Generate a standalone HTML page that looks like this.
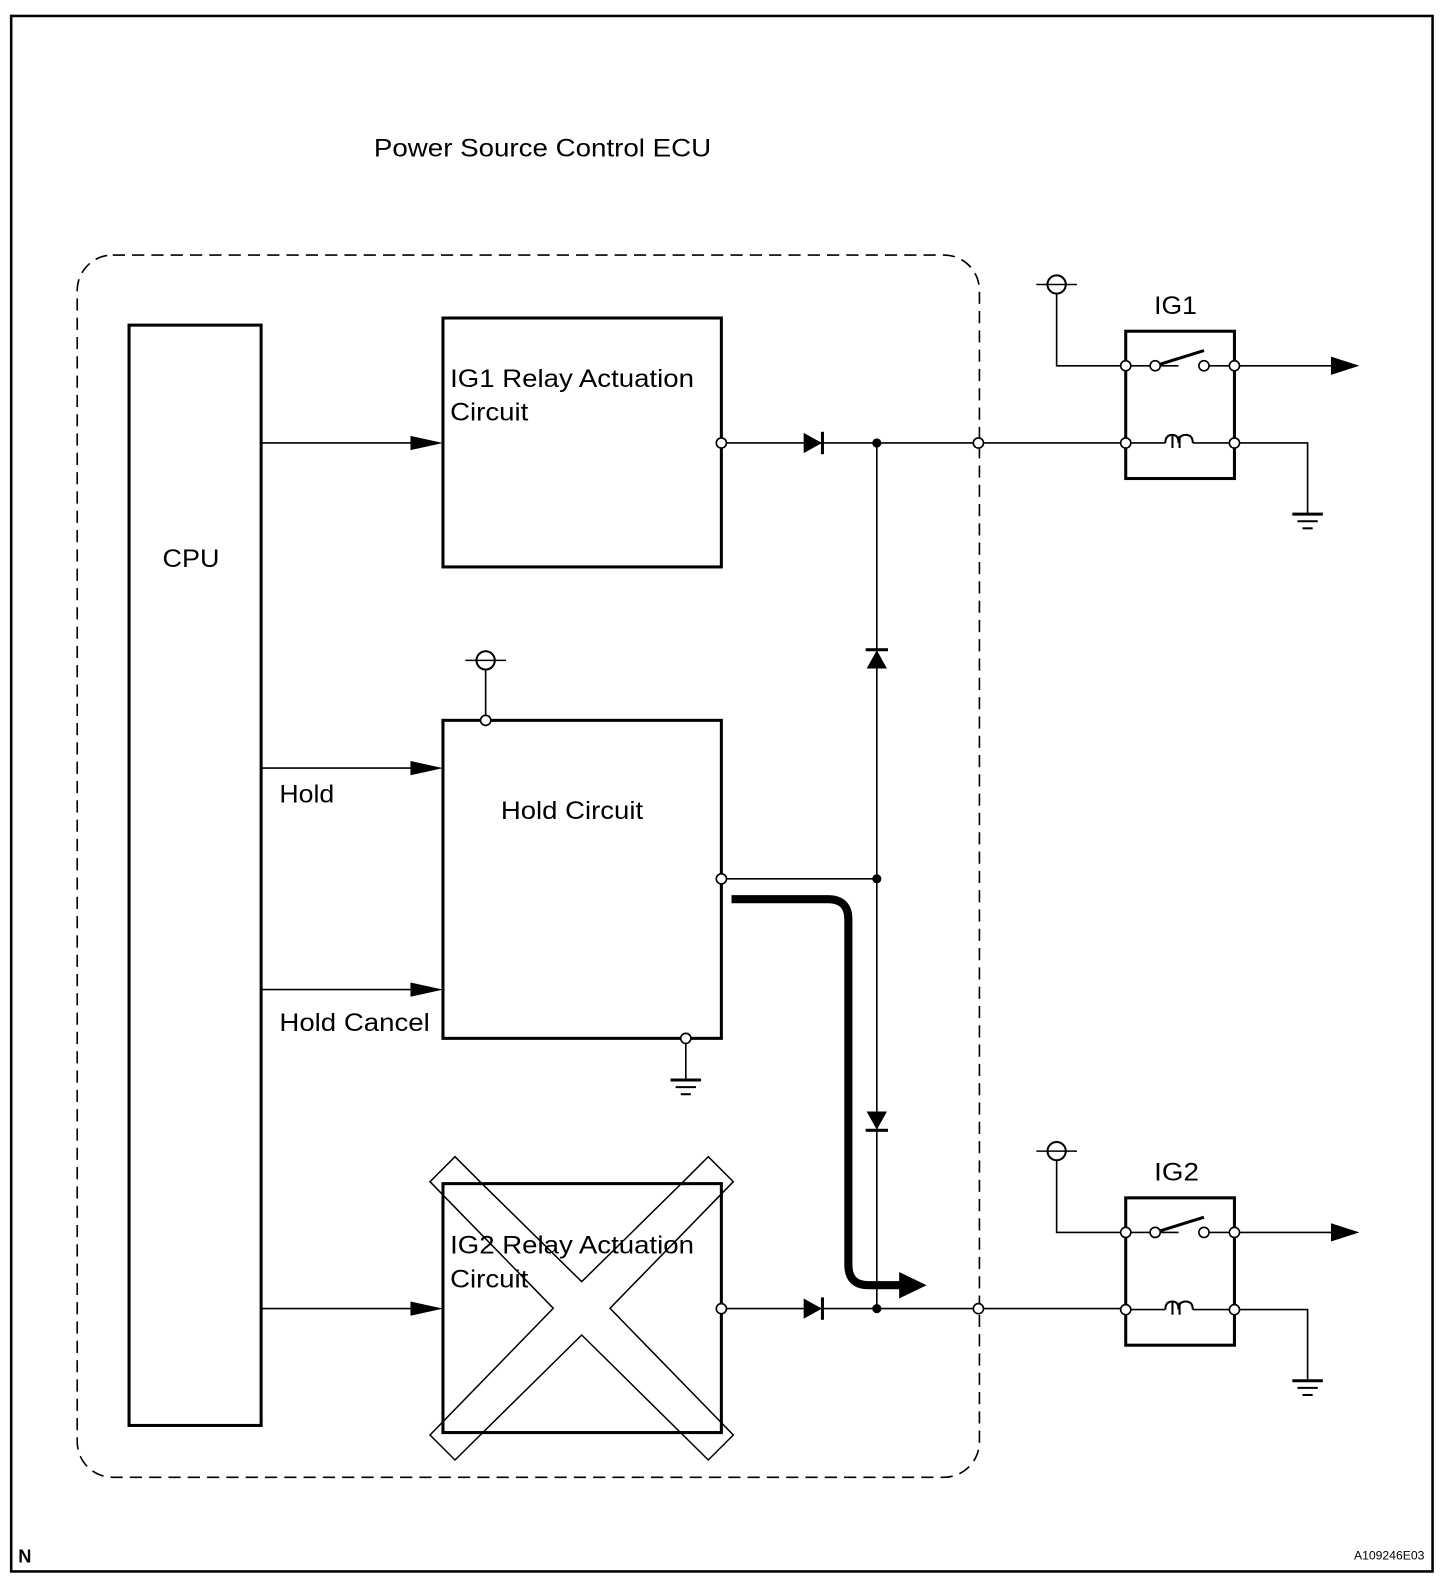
<!DOCTYPE html>
<html><head><meta charset="utf-8"><style>
html,body{margin:0;padding:0;background:#fff}
svg{display:block}
text{font-family:"Liberation Sans",Arial,sans-serif;fill:#000}
</style></head><body>
<svg width="1456" height="1592" viewBox="0 0 1456 1592" xmlns="http://www.w3.org/2000/svg">
<defs>
<g id="batt"><circle cx="0" cy="0" r="9" fill="#fff" stroke="#000" stroke-width="2"/><line x1="-20" y1="0" x2="20" y2="0" stroke="#000" stroke-width="1.5"/></g>
<g id="gnd" stroke="#000"><line x1="-15" y1="0" x2="15" y2="0" stroke-width="3"/><line x1="-10" y1="7" x2="10" y2="7" stroke-width="2"/><line x1="-5" y1="14" x2="5" y2="14" stroke-width="2"/></g>
<g id="oc"><circle cx="0" cy="0" r="5" fill="#fff" stroke="#000" stroke-width="1.6"/></g>
</defs>
<polygon points="455,1156.7 480,1181.7 581.7,1281.7 683.3,1181.7 708.3,1156.7 733.3,1181.7 610,1308.3 733.3,1435 708.3,1460 581.7,1335 455,1460 430,1435 553.3,1308.3 430,1181.7" fill="#fff" stroke="#000" stroke-width="1.5"/>
<g transform="scale(1.016)" stroke-linecap="butt">
<rect x="11" y="15.7" width="1399" height="1531" fill="none" stroke="#000" stroke-width="2.5"/>
<text x="368" y="154" font-size="25" textLength="332" lengthAdjust="spacingAndGlyphs">Power Source Control ECU</text>
<rect x="76" y="251" width="888" height="1203" rx="35" fill="none" stroke="#000" stroke-width="1.6" stroke-dasharray="12,7"/>
<rect x="127" y="320" width="130" height="1083" fill="none" stroke="#000" stroke-width="3"/>
<text x="160" y="558" font-size="25" textLength="56" lengthAdjust="spacingAndGlyphs">CPU</text>
<rect x="436" y="313" width="274" height="245" fill="none" stroke="#000" stroke-width="3"/>
<text x="443" y="381" font-size="25" textLength="240" lengthAdjust="spacingAndGlyphs">IG1 Relay Actuation</text>
<text x="443" y="414" font-size="25" textLength="77" lengthAdjust="spacingAndGlyphs">Circuit</text>
<rect x="436" y="709" width="274" height="313" fill="none" stroke="#000" stroke-width="3"/>
<text x="493" y="806" font-size="25" textLength="140" lengthAdjust="spacingAndGlyphs">Hold Circuit</text>
<rect x="436" y="1165" width="274" height="245" fill="none" stroke="#000" stroke-width="3"/>
<text x="443" y="1234" font-size="25" textLength="240" lengthAdjust="spacingAndGlyphs">IG2 Relay Actuation</text>
<text x="443" y="1267" font-size="25" textLength="77" lengthAdjust="spacingAndGlyphs">Circuit</text>
<g stroke="#000" stroke-width="1.6" fill="none">
<line x1="257" y1="436" x2="410" y2="436"/><line x1="257" y1="756" x2="410" y2="756"/><line x1="257" y1="974" x2="410" y2="974"/><line x1="257" y1="1288" x2="410" y2="1288"/>
<line x1="710" y1="436" x2="1108" y2="436"/><line x1="710" y1="1288" x2="1108" y2="1288"/>
<line x1="863" y1="436" x2="863" y2="1288"/><line x1="710" y1="865" x2="863" y2="865"/>
<line x1="478" y1="650" x2="478" y2="709"/><line x1="675" y1="1022" x2="675" y2="1063"/>
</g>
<g fill="#000">
<polygon points="404,429 436,436 404,443"/><polygon points="404,749 436,756 404,763"/><polygon points="404,967 436,974 404,981"/><polygon points="404,1281 436,1288 404,1295"/>
<polygon points="791,426 809,436 791,446"/><rect x="808" y="425" width="3" height="22"/>
<polygon points="791,1278 809,1288 791,1298"/><rect x="808" y="1277" width="3" height="22"/>
<polygon points="853,658 863,640 873,658"/><rect x="852" y="638" width="22" height="3"/>
<polygon points="853,1094 863,1112 873,1094"/><rect x="852" y="1111" width="22" height="3"/>
<circle cx="863" cy="436" r="4.5"/><circle cx="863" cy="865" r="4.5"/><circle cx="863" cy="1288" r="4.5"/>
</g>
<path d="M720 885 H815 Q835 885 835 905 V1245 Q835 1265 855 1265 H888" fill="none" stroke="#000" stroke-width="8"/>
<polygon points="885,1252 912,1265 885,1278" fill="#000"/>
<use href="#batt" x="478" y="650"/><use href="#oc" x="478" y="709"/>
<use href="#oc" x="675" y="1022"/><use href="#gnd" x="675" y="1063"/>
<use href="#oc" x="710" y="436"/><use href="#oc" x="710" y="865"/><use href="#oc" x="710" y="1288"/>
<use href="#oc" x="963" y="436"/><use href="#oc" x="963" y="1288"/>
<text x="275" y="790" font-size="25" textLength="54" lengthAdjust="spacingAndGlyphs">Hold</text>
<text x="275" y="1015" font-size="25" textLength="148" lengthAdjust="spacingAndGlyphs">Hold Cancel</text>
<g>
<text x="1136" y="309" font-size="25" textLength="42" lengthAdjust="spacingAndGlyphs">IG1</text>
<g stroke="#000" stroke-width="1.6" fill="none">
<polyline points="1040,280 1040,360 1108,360"/>
<line x1="1108" y1="360" x2="1320" y2="360"/>
<line x1="1137" y1="360" x2="1185" y2="345" stroke-width="3"/>
<line x1="1108" y1="436" x2="1147" y2="436"/><line x1="1174" y1="436" x2="1215" y2="436"/>
<path d="M1147 436 Q1147 428 1154 428 Q1160 428 1160 436 Q1160 428 1167 428 Q1174 428 1174 436" stroke-width="2"/>
<path d="M1154 429 V441 M1161 429 V441" stroke-width="2"/>
<polyline points="1215,436 1287,436 1287,505"/>
</g>
<line x1="1160" y1="360" x2="1181" y2="360" stroke="#fff" stroke-width="4"/>
<rect x="1108" y="326" width="107" height="145" fill="none" stroke="#000" stroke-width="3"/>
<polygon points="1310,351 1338,360 1310,369" fill="#000"/>
<use href="#batt" x="1040" y="280"/>
<use href="#oc" x="1108" y="360"/><use href="#oc" x="1137" y="360"/><use href="#oc" x="1185" y="360"/><use href="#oc" x="1215" y="360"/>
<use href="#oc" x="1108" y="436"/><use href="#oc" x="1215" y="436"/>
<use href="#gnd" x="1287" y="506"/>
</g>
<g transform="translate(0,853)">
<text x="1136" y="309" font-size="25" textLength="44" lengthAdjust="spacingAndGlyphs">IG2</text>
<g stroke="#000" stroke-width="1.6" fill="none">
<polyline points="1040,280 1040,360 1108,360"/>
<line x1="1108" y1="360" x2="1320" y2="360"/>
<line x1="1137" y1="360" x2="1185" y2="345" stroke-width="3"/>
<line x1="1108" y1="436" x2="1147" y2="436"/><line x1="1174" y1="436" x2="1215" y2="436"/>
<path d="M1147 436 Q1147 428 1154 428 Q1160 428 1160 436 Q1160 428 1167 428 Q1174 428 1174 436" stroke-width="2"/>
<path d="M1154 429 V441 M1161 429 V441" stroke-width="2"/>
<polyline points="1215,436 1287,436 1287,505"/>
</g>
<line x1="1160" y1="360" x2="1181" y2="360" stroke="#fff" stroke-width="4"/>
<rect x="1108" y="326" width="107" height="145" fill="none" stroke="#000" stroke-width="3"/>
<polygon points="1310,351 1338,360 1310,369" fill="#000"/>
<use href="#batt" x="1040" y="280"/>
<use href="#oc" x="1108" y="360"/><use href="#oc" x="1137" y="360"/><use href="#oc" x="1185" y="360"/><use href="#oc" x="1215" y="360"/>
<use href="#oc" x="1108" y="436"/><use href="#oc" x="1215" y="436"/>
<use href="#gnd" x="1287" y="506"/>
</g>
<text x="18" y="1538" font-size="18" font-weight="bold">N</text>
<text x="1402" y="1535" font-size="12" text-anchor="end">A109246E03</text>
</g>
</svg>
</body></html>
